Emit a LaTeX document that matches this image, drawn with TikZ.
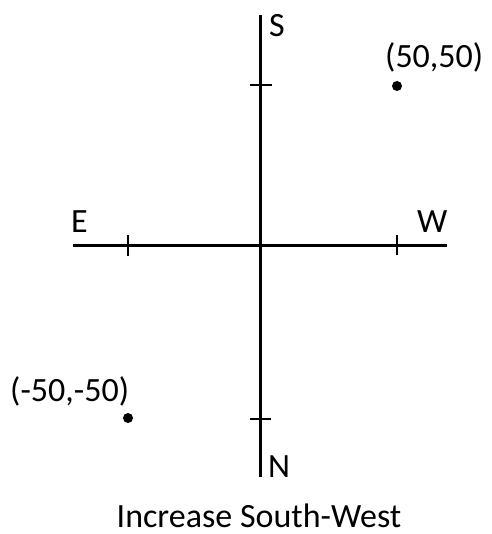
\documentclass[tikz,border=0pt]{standalone}
\usepackage{fontspec}
\setmainfont{Carlito}
\begin{document}
\begin{tikzpicture}[x=1pt,y=-1pt,
  axis/.style={line width=3pt},
  tickmark/.style={line width=2.8pt},
  lbl/.style={inner sep=0pt,anchor=base west,font=\fontsize{34}{40}\selectfont},
  dot/.style={circle,fill=black,inner sep=0pt,minimum size=10pt}]
\useasboundingbox (0,0) rectangle (491,534);
% axes end points
\coordinate (top) at (260,15);
\coordinate (bot) at (260,477);
\coordinate (left) at (73,245);
\coordinate (right) at (447,245);
\draw[axis] (top) -- (bot);
\draw[axis] (left) -- (right);
% ticks
\coordinate (t1a) at (250,85);  \coordinate (t1b) at (272,85);
\coordinate (t2a) at (250,419); \coordinate (t2b) at (271,419);
\coordinate (t3a) at (128,235); \coordinate (t3b) at (128,256);
\coordinate (t4a) at (397,235); \coordinate (t4b) at (397,255);
\draw[tickmark] (t1a) -- (t1b);
\draw[tickmark] (t2a) -- (t2b);
\draw[tickmark] (t3a) -- (t3b);
\draw[tickmark] (t4a) -- (t4b);
% points
\node[dot] (p1) at (397,86) {};
\node[dot] (p2) at (128,418) {};
% labels
\node[lbl] (S) at (269,37) {S};
\node[lbl] (E) at (71,233) {E};
\node[lbl] (W) at (417,233) {W};
\node[lbl] (N) at (268,477) {N};
\node[lbl] (l1) at (385,68) {(50,50)};
\node[lbl] (l2) at (10,401) {(-50,-50)};
\node[inner sep=0pt,anchor=base,font=\fontsize{34}{40}\selectfont] (cap) at (259,527) {Increase South-West};
\end{tikzpicture}
\end{document}
